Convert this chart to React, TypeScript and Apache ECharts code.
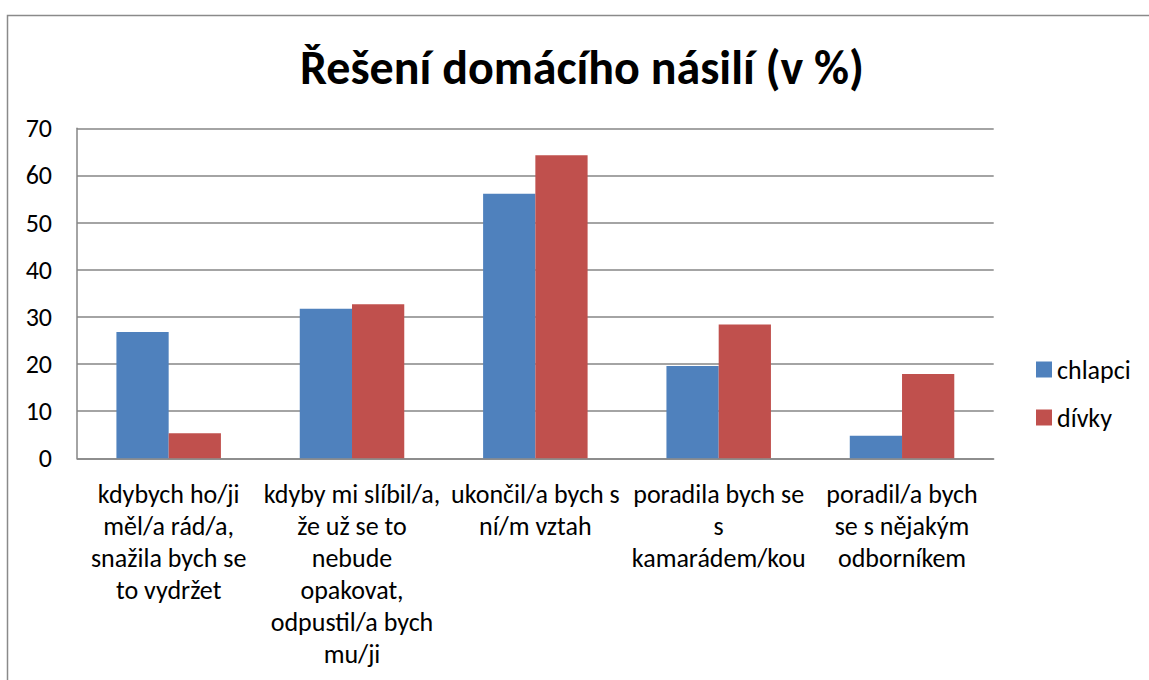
import React, { useEffect, useRef } from "react";
import * as echarts from "echarts";

const titleText = "Řešení domácího násilí (v %)";
const categories = [
  "kdybych ho/ji\nměl/a rád/a,\nsnažila bych se\nto vydržet",
  "kdyby mi slíbil/a,\nže už se to\nnebude\nopakovat,\nodpustil/a bych\nmu/ji",
  "ukončil/a bych s\nní/m vztah",
  "poradila bych se\ns\nkamarádem/kou",
  "poradil/a bych\nse s nějakým\nodborníkem",
];
const seriesNames = ["chlapci", "dívky"];
const chlapci = [26.8, 31.7, 56.1, 19.6, 4.8];
const divky = [5.3, 32.7, 64.3, 28.4, 17.9];
const yTicks = { min: 0, max: 70, interval: 10 };

const FONT = "Carlito, 'Open Sans', sans-serif";

export default function App() {
  const ref = useRef<HTMLDivElement>(null);
  useEffect(() => {
    if (!ref.current) return;
    const chart = echarts.init(ref.current, undefined, { renderer: "svg" });
    chart.setOption({
      animation: false,
      backgroundColor: "#ffffff",
      textStyle: { fontFamily: FONT, color: "#000" },
      graphic: [
        {
          type: "rect",
          shape: { x: 7.5, y: 15.5, width: 1200, height: 700 },
          style: { fill: "none", stroke: "#8a8a8a", lineWidth: 1.5 },
          silent: true,
        },
        {
          type: "text",
          x: 582,
          y: 67,
          style: {
            text: titleText,
            fontFamily: FONT,
            fontWeight: "bold",
            fontSize: 48,
            fill: "#000",
            align: "center",
            verticalAlign: "middle",
          },
        },
      ],
      legend: {
        orient: "vertical",
        left: 1036,
        top: 356.5,
        padding: 0,
        itemWidth: 16,
        itemHeight: 16,
        itemGap: 22,
        icon: "rect",
        data: seriesNames,
        textStyle: { fontFamily: FONT, fontSize: 26, lineHeight: 26, color: "#000" },
      },
      grid: { left: 77, top: 128.3, right: 155.3, bottom: 221.7, containLabel: false },
      xAxis: {
        type: "category",
        data: categories,
        axisTick: { show: false },
        axisLine: { lineStyle: { color: "#868686", width: 1.5 } },
        axisLabel: {
          interval: 0,
          margin: 20,
          fontFamily: FONT,
          fontSize: 26,
          lineHeight: 32,
          color: "#000",
          align: "center",
        },
      },
      yAxis: {
        type: "value",
        min: yTicks.min,
        max: yTicks.max,
        interval: yTicks.interval,
        axisLine: { show: true, lineStyle: { color: "#868686", width: 1.5 } },
        axisTick: { show: false },
        splitLine: { lineStyle: { color: "#868686", width: 1.5 } },
        axisLabel: { margin: 25, fontFamily: FONT, fontSize: 26, color: "#000" },
      },
      series: [
        {
          name: seriesNames[0],
          type: "bar",
          data: chlapci,
          barGap: "0%",
          barCategoryGap: "43%",
          itemStyle: { color: "#4F81BD" },
        },
        {
          name: seriesNames[1],
          type: "bar",
          data: divky,
          barGap: "0%",
          barCategoryGap: "43%",
          itemStyle: { color: "#C0504D" },
        },
      ],
    });
    return () => chart.dispose();
  }, []);
  return (
    <div
      ref={ref}
      style={{ position: "fixed", left: 0, top: 0, width: 1149, height: 680 }}
    />
  );
}
